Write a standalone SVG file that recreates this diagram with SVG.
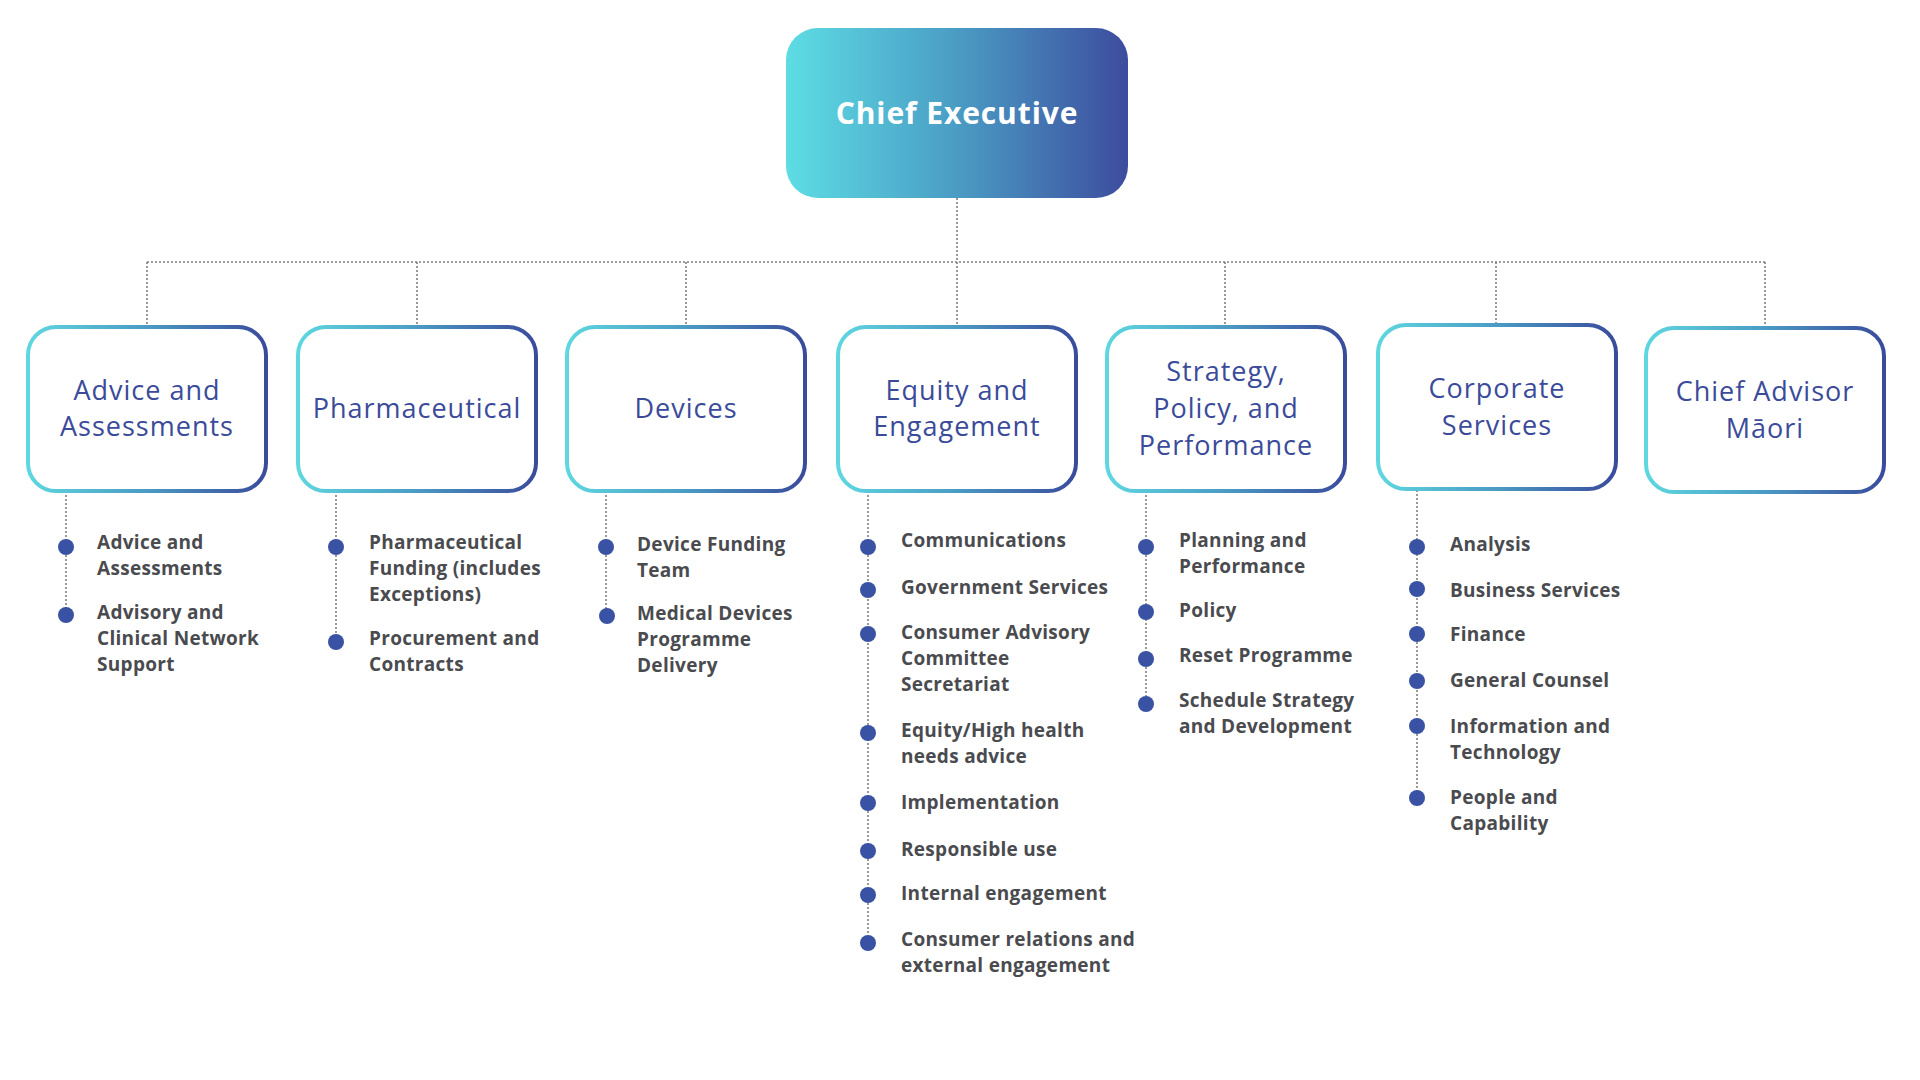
<svg xmlns="http://www.w3.org/2000/svg" width="1920" height="1080" viewBox="0 0 1920 1080">
<defs>
<linearGradient id="ceg" x1="0" y1="0" x2="1" y2="0">
<stop offset="0" stop-color="#5ddde4"/>
<stop offset="0.5" stop-color="#4a9cc4"/>
<stop offset="1" stop-color="#3d4c9e"/>
</linearGradient>
<linearGradient id="bg" x1="0" y1="0" x2="1" y2="0">
<stop offset="0" stop-color="#5ed7e0"/>
<stop offset="0.5" stop-color="#4a9bc4"/>
<stop offset="1" stop-color="#3a4b9c"/>
</linearGradient>
<style>
.box{fill:#fff;stroke:url(#bg);stroke-width:4}
.title{font-family:"Open Sans","DejaVu Sans",sans-serif;font-size:27px;font-weight:400;letter-spacing:1px;fill:#3b4b9a;text-anchor:middle}
.item{font-family:"Open Sans","DejaVu Sans",sans-serif;font-size:19px;font-weight:700;letter-spacing:0.3px;fill:#4a4b4f}
.dot{fill:#3a52a3}
.conn{stroke:#808080;stroke-width:1.6;stroke-dasharray:2 2;fill:none}
.ce{font-family:"Open Sans","DejaVu Sans",sans-serif;font-size:30px;font-weight:700;letter-spacing:0.9px;fill:#fff;text-anchor:middle}
</style>
</defs>
<rect width="1920" height="1080" fill="#fff"/>
<g id="connectors">
<line class="conn" x1="957" y1="198" x2="957" y2="262"/>
<line class="conn" x1="147" y1="262" x2="1765" y2="262"/>
<line class="conn" x1="147" y1="262" x2="147" y2="327"/>
<line class="conn" x1="417" y1="262" x2="417" y2="327"/>
<line class="conn" x1="686" y1="262" x2="686" y2="327"/>
<line class="conn" x1="957" y1="262" x2="957" y2="327"/>
<line class="conn" x1="1225" y1="262" x2="1225" y2="327"/>
<line class="conn" x1="1496" y1="262" x2="1496" y2="325"/>
<line class="conn" x1="1765" y1="262" x2="1765" y2="328"/>
<line class="conn" x1="66" y1="491" x2="66" y2="615"/>
<line class="conn" x1="336" y1="491" x2="336" y2="642"/>
<line class="conn" x1="606" y1="491" x2="606" y2="616"/>
<line class="conn" x1="868" y1="491" x2="868" y2="943"/>
<line class="conn" x1="1146" y1="491" x2="1146" y2="704"/>
<line class="conn" x1="1417" y1="490" x2="1417" y2="798"/>
</g>
<g id="chief-executive">
<rect x="786" y="28" width="342" height="170" rx="32" fill="url(#ceg)"/>
<text class="ce" x="957" y="124">Chief Executive</text>
</g>
<g id="advice">
<rect class="box" x="28" y="327" width="238" height="164" rx="28"/>
<text class="title" x="147" y="400">Advice and</text>
<text class="title" x="147" y="436">Assessments</text>
<circle class="dot" cx="66" cy="547" r="8"/>
<circle class="dot" cx="66" cy="615" r="8"/>
<text class="item" x="97" y="549">Advice and</text>
<text class="item" x="97" y="575">Assessments</text>
<text class="item" x="97" y="619">Advisory and</text>
<text class="item" x="97" y="645">Clinical Network</text>
<text class="item" x="97" y="671">Support</text>
</g>
<g id="pharmaceutical">
<rect class="box" x="298" y="327" width="238" height="164" rx="28"/>
<text class="title" x="417" y="418">Pharmaceutical</text>
<circle class="dot" cx="336" cy="547" r="8"/>
<circle class="dot" cx="336" cy="642" r="8"/>
<text class="item" x="369" y="549">Pharmaceutical</text>
<text class="item" x="369" y="575">Funding (includes</text>
<text class="item" x="369" y="601">Exceptions)</text>
<text class="item" x="369" y="645">Procurement and</text>
<text class="item" x="369" y="671">Contracts</text>
</g>
<g id="devices">
<rect class="box" x="567" y="327" width="238" height="164" rx="28"/>
<text class="title" x="686" y="418">Devices</text>
<circle class="dot" cx="606" cy="547" r="8"/>
<circle class="dot" cx="607" cy="616" r="8"/>
<text class="item" x="637" y="551">Device Funding</text>
<text class="item" x="637" y="577">Team</text>
<text class="item" x="637" y="620">Medical Devices</text>
<text class="item" x="637" y="646">Programme</text>
<text class="item" x="637" y="672">Delivery</text>
</g>
<g id="equity">
<rect class="box" x="838" y="327" width="238" height="164" rx="28"/>
<text class="title" x="957" y="400">Equity and</text>
<text class="title" x="957" y="436">Engagement</text>
<circle class="dot" cx="868" cy="547" r="8"/>
<circle class="dot" cx="868" cy="590" r="8"/>
<circle class="dot" cx="868" cy="634" r="8"/>
<circle class="dot" cx="868" cy="733" r="8"/>
<circle class="dot" cx="868" cy="803" r="8"/>
<circle class="dot" cx="868" cy="851" r="8"/>
<circle class="dot" cx="868" cy="895" r="8"/>
<circle class="dot" cx="868" cy="943" r="8"/>
<text class="item" x="901" y="547">Communications</text>
<text class="item" x="901" y="594">Government Services</text>
<text class="item" x="901" y="639">Consumer Advisory</text>
<text class="item" x="901" y="665">Committee</text>
<text class="item" x="901" y="691">Secretariat</text>
<text class="item" x="901" y="737">Equity/High health</text>
<text class="item" x="901" y="763">needs advice</text>
<text class="item" x="901" y="809">Implementation</text>
<text class="item" x="901" y="856">Responsible use</text>
<text class="item" x="901" y="900">Internal engagement</text>
<text class="item" x="901" y="946">Consumer relations and</text>
<text class="item" x="901" y="972">external engagement</text>
</g>
<g id="strategy">
<rect class="box" x="1107" y="327" width="238" height="164" rx="28"/>
<text class="title" x="1226" y="381">Strategy,</text>
<text class="title" x="1226" y="418">Policy, and</text>
<text class="title" x="1226" y="455">Performance</text>
<circle class="dot" cx="1146" cy="547" r="8"/>
<circle class="dot" cx="1146" cy="612" r="8"/>
<circle class="dot" cx="1146" cy="659" r="8"/>
<circle class="dot" cx="1146" cy="704" r="8"/>
<text class="item" x="1179" y="547">Planning and</text>
<text class="item" x="1179" y="573">Performance</text>
<text class="item" x="1179" y="617">Policy</text>
<text class="item" x="1179" y="662">Reset Programme</text>
<text class="item" x="1179" y="707">Schedule Strategy</text>
<text class="item" x="1179" y="733">and Development</text>
</g>
<g id="corporate">
<rect class="box" x="1378" y="325" width="238" height="164" rx="28"/>
<text class="title" x="1497" y="398">Corporate</text>
<text class="title" x="1497" y="435">Services</text>
<circle class="dot" cx="1417" cy="547" r="8"/>
<circle class="dot" cx="1417" cy="589" r="8"/>
<circle class="dot" cx="1417" cy="634" r="8"/>
<circle class="dot" cx="1417" cy="681" r="8"/>
<circle class="dot" cx="1417" cy="726" r="8"/>
<circle class="dot" cx="1417" cy="798" r="8"/>
<text class="item" x="1450" y="551">Analysis</text>
<text class="item" x="1450" y="597">Business Services</text>
<text class="item" x="1450" y="641">Finance</text>
<text class="item" x="1450" y="687">General Counsel</text>
<text class="item" x="1450" y="733">Information and</text>
<text class="item" x="1450" y="759">Technology</text>
<text class="item" x="1450" y="804">People and</text>
<text class="item" x="1450" y="830">Capability</text>
</g>
<g id="chief-advisor">
<rect class="box" x="1646" y="328" width="238" height="164" rx="28"/>
<text class="title" x="1765" y="401">Chief Advisor</text>
<text class="title" x="1765" y="438">Māori</text>
</g>
</svg>
